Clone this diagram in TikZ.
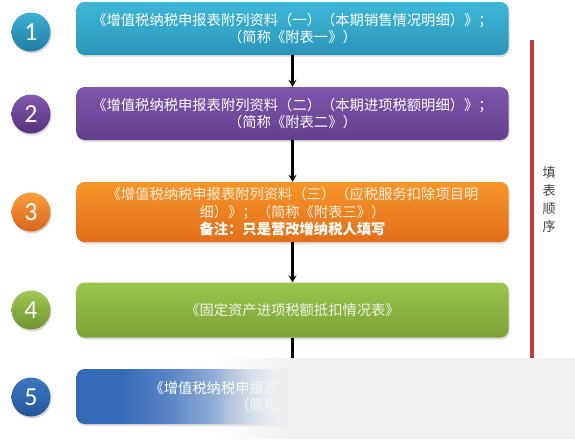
\documentclass[tikz,border=0pt]{standalone}
\usepackage{fontspec}
\setmainfont{Noto Sans CJK SC}
\newfontfamily\digitfont{Carlito}
\usetikzlibrary{arrows.meta,shadows,fadings}
\definecolor{bonet}{HTML}{3FB7D8}\definecolor{boneb}{HTML}{2A95B8}
\definecolor{btwot}{HTML}{7E56AA}\definecolor{btwob}{HTML}{633E8E}
\definecolor{bthrt}{HTML}{F8962A}\definecolor{bthrb}{HTML}{E06E1A}
\definecolor{bfout}{HTML}{9CC54E}\definecolor{bfoub}{HTML}{7CA236}
\definecolor{bfive}{HTML}{3469B5}\definecolor{bfivem}{HTML}{5B87C6}\definecolor{bfivel}{HTML}{A9BEDD}
\definecolor{bfivew}{HTML}{E2E8F1}\definecolor{bfivee}{HTML}{F1F3F6}
\definecolor{conet}{HTML}{3DB0D4}\definecolor{coneb}{HTML}{1F7FA3}
\definecolor{ctwot}{HTML}{8258AC}\definecolor{ctwob}{HTML}{55327D}
\definecolor{cthrt}{HTML}{F9A040}\definecolor{cthrb}{HTML}{D9621A}
\definecolor{cfout}{HTML}{A0C855}\definecolor{cfoub}{HTML}{6E9330}
\definecolor{cfivt}{HTML}{3C78C0}\definecolor{cfivb}{HTML}{24559A}
\definecolor{redbar}{HTML}{C03A3C}
\definecolor{ordtext}{HTML}{404040}
\definecolor{ovl}{HTML}{F1F1F1}
\pgfdeclarehorizontalshading{fivefade}{100bp}{color(0bp)=(bfive); color(25bp)=(bfive); color(30bp)=(bfive); color(36bp)=(bfivem); color(43bp)=(bfivel); color(49bp)=(bfivew); color(75bp)=(bfivee); color(100bp)=(bfivee)}
\tikzset{
  stepbox/.style={rounded corners=8pt, minimum width=432pt, align=center,
    text=white, font=\fontsize{14.3}{17.5}\selectfont, inner sep=0pt,
    drop shadow={shadow xshift=1pt, shadow yshift=-2pt, opacity=.25}},
  numdisk/.style={circle, minimum size=39pt, inner sep=0pt, text=white,
    font=\digitfont\fontsize{26}{26}\selectfont,
    drop shadow={shadow xshift=1pt, shadow yshift=-2pt, opacity=.3}},
  flowarrow/.style={line width=2.4pt, black, -{Stealth[length=7pt,width=8pt,inset=2.5pt]}},
  flowline/.style={line width=2.4pt, black},
  redline/.style={line width=4pt, redbar}
}
\begin{document}
\begin{tikzpicture}[x=1pt,y=-1pt]
\useasboundingbox (0,0) rectangle (575,439);
\fill[white] (0,0) rectangle (575,439);
% red order bar
\coordinate (rtop) at (532,40);
\coordinate (rbot) at (532,358);
\draw[redline] (rtop) -- (rbot);
\node[text=ordtext, font=\fontsize{13}{18}\selectfont, align=center] (ord) at (549,200) {填\\表\\顺\\序};
% boxes
\node[stepbox, minimum height=53pt, top color=bonet, bottom color=boneb] (b1) at (292.5,28.5)
  {《增值税纳税申报表附列资料（一）（本期销售情况明细）》；\\（简称《附表一》）};
\node[stepbox, minimum height=53pt, top color=btwot, bottom color=btwob] (b2) at (292.5,113.5)
  {《增值税纳税申报表附列资料（二）（本期进项税额明细）》；\\（简称《附表二》）};
\node[stepbox, minimum height=60pt, top color=bthrt, bottom color=bthrb] (b3) at (292.5,212)
  {{\color{white!85!bthrt}《增值税纳税申报表附列资料（三）（应税服务扣除项目明}\\{\color{white!85!bthrt}细）》；（简称《附表三》）}\\{\bfseries 备注：只是营改增纳税人填写}};
\node[stepbox, minimum height=55pt, top color=bfout, bottom color=bfoub, text=white!88!bfoub] (b4) at (292.5,310)
  {《固定资产进项税额抵扣情况表》};
\node[stepbox, minimum height=55pt, shading=fivefade] (b5) at (292.5,396.5)
  {《增值税纳税申报表（一般纳税人适用）》；\\（简称《主表》）};
% number disks
\node[numdisk, top color=conet, bottom color=coneb] (n1) at (31,32) {1};
\node[numdisk, top color=ctwot, bottom color=ctwob] (n2) at (31,114) {2};
\node[numdisk, top color=cthrt, bottom color=cthrb] (n3) at (31,212) {3};
\node[numdisk, top color=cfout, bottom color=cfoub] (n4) at (31,310) {4};
\node[numdisk, top color=cfivt, bottom color=cfivb] (n5) at (31,397) {5};
% connectors
\draw[flowarrow] (b1) -- (b2);
\draw[flowarrow] (b2) -- (b3);
\draw[flowarrow] (b3) -- (b4);
\coordinate (fend) at (292.5,358);
\draw[flowline] (b4) -- (fend);
% light overlay at lower right, with a soft left edge
\fill[ovl, path fading=west, opacity=.9] (215,358) rectangle (288,439);
\fill[ovl, opacity=.93] (288,358) rectangle (575,439);
\end{tikzpicture}
\end{document}
